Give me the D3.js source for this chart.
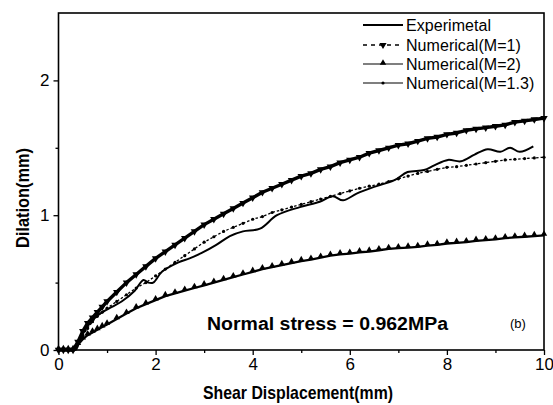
<!DOCTYPE html>
<html><head><meta charset="utf-8">
<script src="https://cdn.jsdelivr.net/npm/d3@7"></script>
<style>
html,body{margin:0;padding:0;background:#fff;}
svg{display:block;font-family:"Liberation Sans",Arial,sans-serif;}
</style></head>
<body>
<svg id="c" width="553" height="405"></svg>
<script>
// ---- data ----
const numX = [0,0.1,0.2,0.3,0.4,0.5,0.6,0.7,0.8,0.9,1.0,1.2,1.4,1.6,1.8,2.0,2.2,2.4,2.6,2.8,3.0,3.2,3.4,3.6,3.8,4.0,4.2,4.4,4.6,4.8,5.0,5.2,5.4,5.6,5.8,6.0,6.2,6.4,6.6,6.8,7.0,7.2,7.4,7.6,7.8,8.0,8.2,8.4,8.6,8.8,9.0,9.2,9.4,9.6,9.8,10];
const numM1 = [0,0,0,0,0.06,0.14,0.20,0.24,0.28,0.32,0.36,0.43,0.50,0.56,0.62,0.68,0.73,0.78,0.83,0.88,0.93,0.97,1.01,1.05,1.09,1.13,1.17,1.20,1.23,1.26,1.29,1.31,1.34,1.36,1.39,1.41,1.43,1.46,1.48,1.50,1.52,1.53,1.55,1.57,1.58,1.60,1.61,1.63,1.64,1.65,1.66,1.67,1.69,1.70,1.71,1.72];
const numM2 = [0,0,0,0,0.04,0.08,0.11,0.13,0.15,0.17,0.19,0.23,0.27,0.31,0.34,0.37,0.40,0.42,0.44,0.46,0.48,0.50,0.52,0.54,0.56,0.58,0.60,0.615,0.63,0.645,0.66,0.67,0.685,0.70,0.71,0.715,0.725,0.73,0.74,0.75,0.755,0.76,0.765,0.775,0.78,0.79,0.795,0.80,0.81,0.815,0.82,0.83,0.835,0.84,0.845,0.85];
const numM13 = [0,0,0,0,0.05,0.11,0.16,0.21,0.25,0.28,0.31,0.36,0.41,0.46,0.50,0.55,0.60,0.65,0.70,0.75,0.80,0.84,0.88,0.91,0.94,0.97,0.99,1.02,1.04,1.06,1.08,1.10,1.12,1.14,1.16,1.18,1.20,1.215,1.23,1.25,1.27,1.29,1.31,1.325,1.34,1.355,1.36,1.37,1.38,1.39,1.40,1.41,1.415,1.42,1.425,1.43];
const expX = [0,0.2,0.35,0.45,0.55,0.65,0.82,1.1,1.3,1.57,1.75,1.85,1.95,2.13,2.47,2.7,2.95,3.25,3.53,3.8,4.15,4.5,4.97,5.38,5.65,5.86,6.14,6.5,6.92,7.19,7.53,7.74,8.02,8.29,8.57,8.84,9.1,9.3,9.5,9.78];
const expY = [0,0,0,0.08,0.15,0.20,0.26,0.32,0.36,0.44,0.52,0.50,0.50,0.58,0.65,0.68,0.72,0.78,0.845,0.88,0.90,1.00,1.06,1.10,1.14,1.11,1.16,1.21,1.26,1.32,1.335,1.37,1.41,1.40,1.45,1.49,1.47,1.50,1.47,1.51];
const xTicks = [0,2,4,6,8,10];
const xMinor = [1,3,5,7,9];
const yTicks = [0,1,2];
const yMinor = [0.5,1.5];
const legendLabels = ["Experimetal","Numerical(M=1)","Numerical(M=2)","Numerical(M=1.3)"];

const svg = d3.select("#c");
const x = d3.scaleLinear().domain([0,10]).range([58.5,544]);
const y = d3.scaleLinear().domain([0,2.5]).range([350,13]);

const line = d3.line().x(d=>x(d[0])).y(d=>y(d[1]));
const zip = (a,b)=>a.map((v,i)=>[v,b[i]]);

// frame
svg.append("rect").attr("x",x(0)).attr("y",y(2.5)).attr("width",x(10)-x(0)).attr("height",y(0)-y(2.5))
  .attr("fill","none").attr("stroke","#000").attr("stroke-width",1.6);

// axes
svg.append("g").attr("transform",`translate(0,${y(0)})`)
  .call(d3.axisBottom(x).tickValues(xTicks).tickSize(5).tickPadding(3).tickFormat(d3.format("d")));
svg.append("g").attr("transform",`translate(0,${y(0)})`)
  .call(d3.axisBottom(x).tickValues(xMinor).tickSize(3).tickFormat(""));
svg.append("g").attr("transform",`translate(${x(0)},0)`)
  .call(d3.axisLeft(y).tickValues(yTicks).tickSize(5).tickPadding(4).tickFormat(d3.format("d")));
svg.append("g").attr("transform",`translate(${x(0)},0)`)
  .call(d3.axisLeft(y).tickValues(yMinor).tickSize(3).tickFormat(""));
svg.selectAll(".domain").remove();
svg.selectAll(".tick line").attr("stroke","#000").attr("stroke-width",1.3);
svg.selectAll(".tick text").attr("font-family","'Liberation Sans',Arial,sans-serif").attr("font-size",17).attr("fill","#000");

// series
const sM1 = zip(numX,numM1), sM2 = zip(numX,numM2), sM13 = zip(numX,numM13), sExp = zip(expX,expY);
const tri = d3.symbol().type(d3.symbolTriangle);

function drawM1(g, pts){
  g.append("path").datum(pts).attr("d",line).attr("fill","none").attr("stroke","#000").attr("stroke-width",3.4).attr("stroke-linejoin","round");
  g.selectAll("path.m").data(pts).join("path").attr("class","m")
    .attr("d",tri.size(24)()).attr("transform",d=>`translate(${x(d[0])},${y(d[1])}) rotate(180)`).attr("fill","#000");
}
function drawM2(g, pts){
  g.append("path").datum(pts).attr("d",line).attr("fill","none").attr("stroke","#000").attr("stroke-width",2.3).attr("stroke-linejoin","round");
  g.selectAll("path.m").data(pts).join("path").attr("class","m")
    .attr("d",tri.size(18)()).attr("transform",d=>`translate(${x(d[0])},${y(d[1])-1.5})`).attr("fill","#000");
}
function drawM13(g, pts){
  g.append("path").datum(pts).attr("d",line).attr("fill","none").attr("stroke","#000").attr("stroke-width",1.3).attr("stroke-dasharray","2.5,2");
  g.selectAll("circle").data(pts).join("circle").attr("cx",d=>x(d[0])).attr("cy",d=>y(d[1])).attr("r",1.6).attr("fill","#000");
}
drawM2(svg.append("g"), sM2);
drawM13(svg.append("g"), sM13);
svg.append("path").datum(sExp).attr("d",line.curve(d3.curveCatmullRom)).attr("fill","none").attr("stroke","#000").attr("stroke-width",2);
line.curve(d3.curveLinear);
drawM1(svg.append("g"), sM1);

// legend
const lg = svg.append("g");
const ly = [25,45,64,83];
const lx0 = 363, lx1 = 403, lxm = 383;
lg.append("line").attr("x1",lx0).attr("x2",lx1).attr("y1",ly[0]).attr("y2",ly[0]).attr("stroke","#000").attr("stroke-width",1.8);
lg.append("line").attr("x1",lx0).attr("x2",lx1).attr("y1",ly[1]).attr("y2",ly[1]).attr("stroke","#000").attr("stroke-width",1.3).attr("stroke-dasharray","4,4");
lg.append("path").attr("d",tri.size(22)()).attr("transform",`translate(${lxm},${ly[1]}) rotate(180)`);
lg.append("line").attr("x1",lx0).attr("x2",lx1).attr("y1",ly[2]).attr("y2",ly[2]).attr("stroke","#000").attr("stroke-width",1.1);
lg.append("path").attr("d",tri.size(18)()).attr("transform",`translate(${lxm},${ly[2]-1})`);
lg.append("line").attr("x1",lx0).attr("x2",lx1).attr("y1",ly[3]).attr("y2",ly[3]).attr("stroke","#000").attr("stroke-width",1.1);
lg.append("circle").attr("cx",lxm).attr("cy",ly[3]).attr("r",1.6);
lg.selectAll("text").data(legendLabels).join("text")
  .attr("x",406).attr("y",(d,i)=>ly[i]+5.5).attr("font-size",16).attr("letter-spacing",0.05).text(d=>d);

// annotation
svg.append("text").attr("x",207).attr("y",330).attr("font-size",18).attr("font-weight","bold")
  .attr("textLength",241).attr("lengthAdjust","spacingAndGlyphs").text("Normal stress = 0.962MPa");
svg.append("text").attr("x",510).attr("y",328).attr("font-size",13).text("(b)");

// axis titles
svg.append("text").attr("x",203).attr("y",399).attr("font-size",19).attr("font-weight","bold")
  .attr("font-family","'Liberation Sans Narrow','Arial Narrow',sans-serif")
  .attr("textLength",190).attr("lengthAdjust","spacingAndGlyphs").text("Shear Displacement(mm)");
svg.append("text").attr("transform","translate(29,248) rotate(-90)").attr("font-size",19).attr("font-weight","bold")
  .attr("font-family","'Liberation Sans Narrow','Arial Narrow',sans-serif")
  .attr("textLength",100).attr("lengthAdjust","spacingAndGlyphs").text("Dilation(mm)");
</script>
</body></html>
